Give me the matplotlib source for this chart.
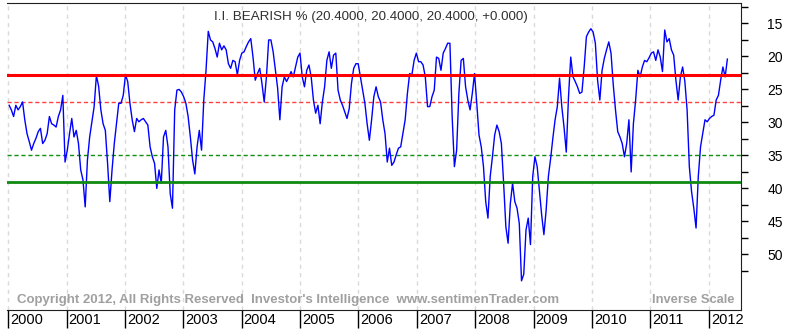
import datetime as dt
import matplotlib
matplotlib.use('Agg')
import matplotlib.pyplot as plt
import matplotlib.dates as mdates
import matplotlib.transforms as mtransforms
import pandas as pd

plt.rcParams['font.family'] = ['Liberation Sans', 'DejaVu Sans']

# I.I. bearish %, one reading every two weeks from the start of 2000
start_date = '2000-01-07'
bearish = [
    27.4, 28.1, 29.1, 27.4, 28.1, 27.6, 26.9, 29.6, 31.7, 32.9,
    34.2, 33.2, 32.4, 31.4, 30.9, 33.2, 32.7, 31.7, 29.1, 30.2,
    30.4, 30.7, 29.1, 28.1, 25.9, 36.0, 34.2, 31.7, 29.4, 32.2,
    31.2, 33.2, 37.2, 38.7, 42.8, 35.7, 32.2, 29.9, 27.6, 22.9,
    24.5, 28.1, 30.2, 31.2, 36.2, 42.0,
    37.2, 33.2, 30.2, 27.1, 27.1, 25.9, 22.8, 23.8, 27.1, 29.6,
    31.4, 29.4, 29.9, 29.6, 29.4, 29.9, 30.4, 33.7, 35.2, 36.2,
    40.0, 37.2, 39.2, 32.2, 31.2, 33.7, 40.8, 43.0, 28.1, 25.1,
    25.0, 25.4, 26.1, 27.1, 29.1, 32.2, 35.7, 37.8, 33.7, 31.2,
    34.2, 26.6, 22.1, 16.2, 17.5, 17.8, 18.8,
    20.1, 18.0, 19.0, 18.4, 19.0, 21.1, 21.8, 20.6, 20.8, 22.8,
    20.6, 19.5, 19.3, 18.5, 17.8, 17.3, 20.1, 23.6, 22.6, 21.8,
    24.1, 26.9, 23.1, 17.5, 17.5, 19.3, 22.1, 24.8, 29.6, 24.6,
    23.1, 23.8, 23.1, 22.3, 23.1, 21.6, 20.1, 19.5, 23.1, 24.6,
    22.1, 21.3, 23.1, 26.6, 28.6, 27.4, 30.2,
    26.9, 24.6, 20.6, 19.3, 21.8, 19.8, 19.5, 25.1, 26.6, 27.4,
    28.4, 29.4, 27.9, 24.1, 21.8, 21.1, 21.1, 23.1, 25.1, 27.1,
    30.2, 32.7, 29.6, 26.1, 24.6, 26.1, 26.9, 29.6, 31.7, 36.0,
    33.9, 36.5, 36.0, 34.9, 33.9, 33.7, 31.7, 29.6, 25.6, 22.6,
    22.8, 20.6, 19.5, 20.8, 20.8, 21.3, 23.1,
    27.6, 27.6, 26.1, 25.1, 20.1, 20.3, 22.1, 19.5, 18.8, 18.0,
    18.0, 29.1, 36.7, 34.2, 25.6, 20.6, 20.3, 24.6, 26.6, 28.1,
    25.6, 22.6, 27.1, 31.9, 33.7, 36.7, 42.0, 44.5, 38.2, 35.2,
    31.9, 30.4, 31.4, 33.2, 39.2, 45.8, 48.3, 42.3, 39.2, 42.0,
    43.0, 45.3, 54.0, 53.0, 46.3, 44.5, 48.5,
    38.2, 35.2, 36.7, 40.3, 44.0, 47.0, 43.3, 38.2, 35.5, 32.4,
    29.6, 27.6, 23.3, 27.6, 30.7, 34.5, 26.1, 20.1, 23.1, 23.8,
    24.6, 25.6, 25.4, 21.6, 17.0, 16.3, 15.8, 16.3, 18.0, 23.6,
    26.6, 22.1, 20.3, 19.0, 17.8, 19.5, 24.3, 28.1, 31.4, 32.2,
    33.2, 35.2, 33.2, 29.6, 37.5, 30.2, 26.6,
    22.1, 23.1, 21.6, 20.6, 20.8, 20.2, 19.5, 19.3, 20.6, 19.0,
    20.1, 22.3, 16.0, 17.8, 17.3, 19.0, 19.8, 23.6, 26.6, 23.1,
    21.6, 23.8, 28.1, 36.7, 40.5, 43.0, 46.0, 38.2, 33.7, 31.7,
    29.6, 29.9, 29.4, 29.1, 28.9, 26.6, 25.9, 23.6, 21.6, 23.1,
    20.4,
]
years = list(range(2000, 2013))
y_ticks = [15, 20, 25, 30, 35, 40, 45, 50]

# reference levels
red_level = 22.8
red_dotted_level = 26.9
green_dotted_level = 35
green_level = 39

title = 'I.I. BEARISH % (20.4000, 20.4000, 20.4000, +0.000)'
copyright_text = "Copyright 2012, All Rights Reserved  Investor's Intelligence  www.sentimenTrader.com"

dates = pd.date_range(start_date, periods=len(bearish), freq='14D')

fig = plt.figure(figsize=(8, 3.3), dpi=100)
ax = fig.add_axes([0.009, 0.061, 0.917, 0.930])

# year grid
for y in years:
    ax.axvline(dt.datetime(y, 1, 1), color='#dadada', lw=1, ls=(0, (3, 3)), zorder=0)

ax.axhline(red_level, color='#ff0000', lw=2.2, zorder=3)
ax.axhline(red_dotted_level, color='#ff4040', lw=1, ls=(0, (3, 2)), zorder=1)
ax.axhline(green_dotted_level, color='#109010', lw=1, ls=(0, (3, 2)), zorder=1)
ax.axhline(green_level, color='#108a10', lw=2, zorder=3)

ax.plot(dates, bearish, color='#0000ff', lw=1, zorder=2)

ax.set_xlim(dt.datetime(1999, 12, 26), dt.datetime(2012, 7, 20))
ax.set_ylim(58.4, 11.9)

# right scale
ax.yaxis.tick_right()
ax.set_yticks(y_ticks)
ax.set_yticks([v + 2.5 for v in y_ticks] + [12.5], minor=True)
ax.tick_params(axis='y', which='both', length=5, width=1, direction='out', pad=14, labelsize=10)

# year ticks with labels to the right of each tick
ax.set_xticks([dt.datetime(y, 1, 1) for y in years])
ax.set_xticklabels([str(y) for y in years])
ax.tick_params(axis='x', length=13, width=1, direction='out', pad=-11, labelsize=10.5)
shift = mtransforms.ScaledTranslation(1.5 / 72, 0, fig.dpi_scale_trans)
for lab in ax.get_xticklabels():
    lab.set_horizontalalignment('left')
    lab.set_transform(lab.get_transform() + shift)

ax.spines['left'].set_visible(False)
for s in ['top', 'right', 'bottom']:
    ax.spines[s].set_color('#202020')

ax.text(0.496, 0.975, title, transform=ax.transAxes, ha='center', va='top',
        fontsize=9.6, color='#303030')
ax.text(0.014, 0.012, copyright_text, transform=ax.transAxes, ha='left', va='bottom',
        fontsize=9.5, fontweight='bold', color='#a0a0a0')
ax.text(0.992, 0.012, 'Inverse Scale', transform=ax.transAxes, ha='right', va='bottom',
        fontsize=9.3, fontweight='bold', color='#a0a0a0')

fig.savefig('out.png', dpi=100)
